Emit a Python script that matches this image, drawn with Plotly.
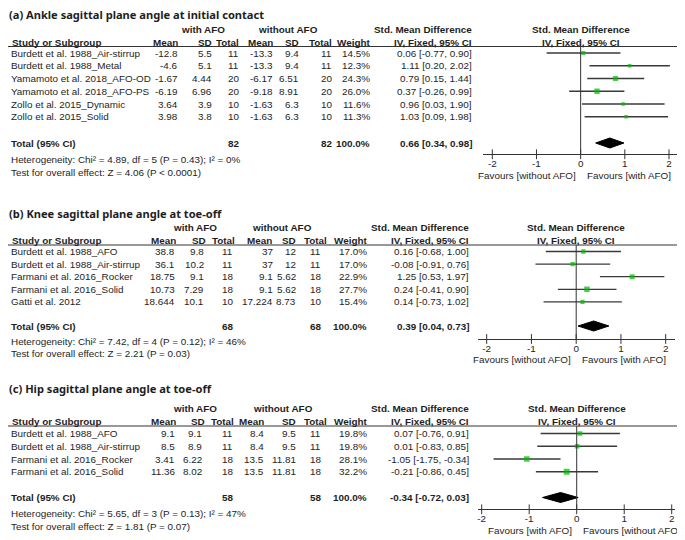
import plotly.graph_objects as go

W, H = 685, 540
OFF = 8  # the page body margin shifts the figure by 8 px

# (a) Ankle sagittal plane angle at initial contact
A_STUDY = ["Burdett et al. 1988_Air-stirrup", "Burdett et al. 1988_Metal",
           "Yamamoto et al. 2018_AFO-OD", "Yamamoto et al. 2018_AFO-PS",
           "Zollo et al. 2015_Dynamic", "Zollo et al. 2015_Solid"]
A_MEAN1 = [-12.8, -4.6, -1.67, -6.19, 3.64, 3.98]
A_SD1 = [5.5, 5.1, 4.44, 6.96, 3.9, 3.8]
A_N1 = [11, 11, 20, 20, 10, 10]
A_MEAN2 = [-13.3, -13.3, -6.17, -9.18, -1.63, -1.63]
A_SD2 = [9.4, 9.4, 6.51, 8.91, 6.3, 6.3]
A_N2 = [11, 11, 20, 20, 10, 10]
A_WEIGHT = [14.5, 12.3, 24.3, 26.0, 11.6, 11.3]
A_SMD = [0.06, 1.11, 0.79, 0.37, 0.96, 1.03]
A_LO = [-0.77, 0.20, 0.15, -0.26, 0.03, 0.09]
A_HI = [0.90, 2.02, 1.44, 0.99, 1.90, 1.98]
A_TOTAL = [82, 82, 100.0, 0.66, 0.34, 0.98]
A_HET = "Heterogeneity: Chi² = 4.89, df = 5 (P = 0.43); I² = 0%"
A_Z = "Test for overall effect: Z = 4.06 (P < 0.0001)"

# (b) Knee sagittal plane angle at toe-off
B_STUDY = ["Burdett et al. 1988_AFO", "Burdett et al. 1988_Air-stirrup",
           "Farmani et al. 2016_Rocker", "Farmani et al. 2016_Solid", "Gatti et al. 2012"]
B_MEAN1 = [38.8, 36.1, 18.75, 10.73, 18.644]
B_SD1 = [9.8, 10.2, 9.1, 7.29, 10.1]
B_N1 = [11, 11, 18, 18, 10]
B_MEAN2 = [37, 37, 9.1, 9.1, 17.224]
B_SD2 = [12, 12, 5.62, 5.62, 8.73]
B_N2 = [11, 11, 18, 18, 10]
B_WEIGHT = [17.0, 17.0, 22.9, 27.7, 15.4]
B_SMD = [0.16, -0.08, 1.25, 0.24, 0.14]
B_LO = [-0.68, -0.91, 0.53, -0.41, -0.73]
B_HI = [1.00, 0.76, 1.97, 0.90, 1.02]
B_TOTAL = [68, 68, 100.0, 0.39, 0.04, 0.73]
B_HET = "Heterogeneity: Chi² = 7.42, df = 4 (P = 0.12); I² = 46%"
B_Z = "Test for overall effect: Z = 2.21 (P = 0.03)"

# (c) Hip sagittal plane angle at toe-off
C_STUDY = ["Burdett et al. 1988_AFO", "Burdett et al. 1988_Air-stirrup",
           "Farmani et al. 2016_Rocker", "Farmani et al. 2016_Solid"]
C_MEAN1 = [9.1, 8.5, 3.41, 11.36]
C_SD1 = [9.1, 8.9, 6.22, 8.02]
C_N1 = [11, 11, 18, 18]
C_MEAN2 = [8.4, 8.4, 13.5, 13.5]
C_SD2 = [9.5, 9.5, 11.81, 11.81]
C_N2 = [11, 11, 18, 18]
C_WEIGHT = [19.8, 19.8, 28.1, 32.2]
C_SMD = [0.07, 0.01, -1.05, -0.21]
C_LO = [-0.76, -0.83, -1.75, -0.86]
C_HI = [0.91, 0.85, -0.34, 0.45]
C_TOTAL = [58, 58, 100.0, -0.34, -0.72, 0.03]
C_HET = "Heterogeneity: Chi² = 5.65, df = 3 (P = 0.13); I² = 47%"
C_Z = "Test for overall effect: Z = 1.81 (P = 0.07)"

TITLES = ["(a) Ankle sagittal plane angle at initial contact",
          "(b) Knee sagittal plane angle at toe-off",
          "(c) Hip sagittal plane angle at toe-off"]
FAVOURS = [("Favours [without AFO]", "Favours [with AFO]"),
           ("Favours [without AFO]", "Favours [with AFO]"),
           ("Favours [with AFO]", "Favours [without AFO]")]
HEADERS = ["Mean", "SD", "Total", "Mean", "SD", "Total", "Weight", "IV, Fixed, 95% CI"]
TICKS = [-2, -1, 0, 1, 2]

panels = [
    dict(study=A_STUDY, m1=A_MEAN1, sd1=A_SD1, n1=A_N1, m2=A_MEAN2, sd2=A_SD2, n2=A_N2,
         w=A_WEIGHT, smd=A_SMD, lo=A_LO, hi=A_HI, total=A_TOTAL, het=A_HET, z=A_Z),
    dict(study=B_STUDY, m1=B_MEAN1, sd1=B_SD1, n1=B_N1, m2=B_MEAN2, sd2=B_SD2, n2=B_N2,
         w=B_WEIGHT, smd=B_SMD, lo=B_LO, hi=B_HI, total=B_TOTAL, het=B_HET, z=B_Z),
    dict(study=C_STUDY, m1=C_MEAN1, sd1=C_SD1, n1=C_N1, m2=C_MEAN2, sd2=C_SD2, n2=C_N2,
         w=C_WEIGHT, smd=C_SMD, lo=C_LO, hi=C_HI, total=C_TOTAL, het=C_HET, z=C_Z),
]

# pixel layout of each panel (page pixels)
layouts = [
    dict(title_y=14, grp_y=29, hdr_y=42, line_y=46.5, row0=53, step=12.75, total_y=143,
         het_y=159, z_y=172, axis_y=154.3, fav_y=175, xm2=492.3, xp2=669, ext=0.21,
         cols=[179, 213, 240, 274, 300, 333, 371, 473],
         hcols=[179, 213, 240, 274, 300, 333, 371, 473], grp_x=[203, 288]),
    dict(title_y=213, grp_y=227, hdr_y=240, line_y=245, row0=251.5, step=12.6, total_y=326,
         het_y=341, z_y=353, axis_y=339, fav_y=359, xm2=486.7, xp2=665.7, ext=0.2,
         cols=[176, 204.5, 234, 274, 297, 322, 368, 470],
         hcols=[177, 207, 236, 273, 297, 328, 368, 470], grp_x=[195, 282]),
    dict(title_y=388, grp_y=408, hdr_y=421.5, line_y=426, row0=433.5, step=12.75, total_y=497.5,
         het_y=513, z_y=526, axis_y=509.3, fav_y=530, xm2=481.7, xp2=671.7, ext=0.07,
         cols=[175.5, 203, 233.5, 265, 297, 322, 368, 470],
         hcols=[177, 206, 235, 265, 297, 328, 368, 470], grp_x=[195, 283]),
]

FW, FH = W - OFF, H - OFF
BODY = "Liberation Sans, Arial, sans-serif"
TITLE_FONT = "Noto Sans, sans-serif"
TEXT = "#1e1e1e"
AXIS = "#333333"
CI_COLOR = "#3a3a3a"
GREEN = "#00bb00"
FS = 9.9

annotations = []
shapes = []


def txt(x, y, s, anchor="left", bold=False, size=FS, family=BODY, xref="x", xshift=0):
    annotations.append(dict(x=x, y=y, xref=xref, yref="y", text=f"<b>{s}</b>" if bold else s,
                            showarrow=False, xanchor=anchor, yanchor="middle", borderpad=0,
                            xshift=xshift, font=dict(family=family, size=size, color=TEXT)))


fig = go.Figure()
fig.add_trace(go.Scatter(x=[OFF], y=[OFF], mode="none", xaxis="x", yaxis="y",
                         showlegend=False, hoverinfo="skip"))

axes = {}
for k, (P, L, title, fav) in enumerate(zip(panels, layouts, TITLES, FAVOURS), start=2):
    xa = f"x{k}"
    n = len(P["study"])
    rows = [L["row0"] + i * L["step"] for i in range(n)]
    c = L["cols"]
    hc = L["hcols"]

    # titles and table headers
    txt(OFF, L["title_y"], title, bold=True, size=11.1, family=TITLE_FONT)
    txt(L["grp_x"][0], L["grp_y"], "with AFO", anchor="center", bold=True)
    txt(L["grp_x"][1], L["grp_y"], "without AFO", anchor="center", bold=True)
    txt(c[7] - 50, L["grp_y"], "Std. Mean Difference", anchor="center", bold=True)
    txt(0, L["grp_y"], "Std. Mean Difference", anchor="center", bold=True, xref=xa)
    txt(0, L["hdr_y"], "IV, Fixed, 95% CI", anchor="center", bold=True, xref=xa)
    txt(11, L["hdr_y"], "Study or Subgroup", bold=True)
    for h, x in zip(HEADERS, hc):
        txt(x, L["hdr_y"], h, anchor="right", bold=True)
    shapes.append(dict(type="line", xref="x", yref="y", x0=OFF, x1=W, y0=L["line_y"], y1=L["line_y"],
                       line=dict(color=AXIS, width=1)))

    # study rows
    for i, y in enumerate(rows):
        txt(10, y, P["study"][i])
        vals = [f"{P['m1'][i]:g}", f"{P['sd1'][i]:g}", f"{P['n1'][i]}",
                f"{P['m2'][i]:g}", f"{P['sd2'][i]:g}", f"{P['n2'][i]}",
                f"{P['w'][i]:.1f}%",
                f"{P['smd'][i]:.2f} [{P['lo'][i]:.2f}, {P['hi'][i]:.2f}]"]
        for v, x in zip(vals, c):
            txt(x, y, v, anchor="right")

    # total row
    t = P["total"]
    yt = L["total_y"]
    txt(10, yt, "Total (95% CI)", bold=True)
    txt(c[2], yt, f"{t[0]}", anchor="right", bold=True)
    txt(c[5], yt, f"{t[1]}", anchor="right", bold=True)
    txt(c[6], yt, f"{t[2]:.1f}%", anchor="right", bold=True)
    txt(c[7], yt, f"{t[3]:.2f} [{t[4]:.2f}, {t[5]:.2f}]", anchor="right", bold=True)
    txt(10, L["het_y"], P["het"])
    txt(10, L["z_y"], P["z"])

    # forest plot
    xs, ys = [], []
    for lo, hi, y in zip(P["lo"], P["hi"], rows):
        xs += [lo, hi, None]
        ys += [y, y, None]
    fig.add_trace(go.Scatter(x=xs, y=ys, mode="lines", xaxis=xa, yaxis="y",
                             line=dict(color=CI_COLOR, width=1.3),
                             showlegend=False, hoverinfo="skip"))
    fig.add_trace(go.Scatter(x=P["smd"], y=rows, mode="markers", xaxis=xa, yaxis="y",
                             marker=dict(symbol="square", color=GREEN,
                                         size=[1.05 * w ** 0.5 for w in P["w"]],
                                         line=dict(width=0)),
                             showlegend=False, hoverinfo="skip"))
    fig.add_trace(go.Scatter(x=[t[4], t[3], t[5], t[3], t[4]], y=[yt, yt - 5, yt, yt + 5, yt],
                             mode="lines", fill="toself", fillcolor="black",
                             line=dict(color="black", width=1), xaxis=xa, yaxis="y",
                             showlegend=False, hoverinfo="skip"))
    fig.add_trace(go.Scatter(x=TICKS, y=[L["axis_y"]] * len(TICKS), mode="markers",
                             xaxis=xa, yaxis="y",
                             marker=dict(symbol="line-ns", size=7, line=dict(width=1, color=AXIS)),
                             showlegend=False, hoverinfo="skip"))
    shapes.append(dict(type="line", xref=xa, yref="y", x0=0, x1=0, y0=L["line_y"], y1=L["axis_y"],
                       line=dict(color=AXIS, width=1)))
    txt(0, L["fav_y"], fav[0], anchor="right", xref=xa, xshift=-4)
    txt(0, L["fav_y"], fav[1], anchor="left", xref=xa, xshift=5)

    scale = (L["xp2"] - L["xm2"]) / 4
    e = L["ext"]
    axes[f"xaxis{k}"] = dict(
        domain=[(L["xm2"] - e * scale - OFF) / FW, (L["xp2"] + e * scale - OFF) / FW],
        range=[-2 - e, 2 + e], anchor="free", position=1 - (L["axis_y"] - OFF) / FH,
        showline=True, linecolor=AXIS, linewidth=1, showgrid=False, zeroline=False,
        tickvals=TICKS, ticktext=[str(v) for v in TICKS], ticks="",
        tickfont=dict(family=BODY, size=FS, color=TEXT), fixedrange=True)

fig.update_layout(
    width=FW, height=FH, margin=dict(l=0, r=0, t=0, b=0),
    paper_bgcolor="white", plot_bgcolor="rgba(0,0,0,0)",
    xaxis=dict(range=[OFF, W], domain=[0, 1], visible=False, fixedrange=True),
    yaxis=dict(range=[H, OFF], domain=[0, 1], visible=False, fixedrange=True),
    annotations=annotations, shapes=shapes, showlegend=False,
    **axes,
)

fig.write_html("out.html")
